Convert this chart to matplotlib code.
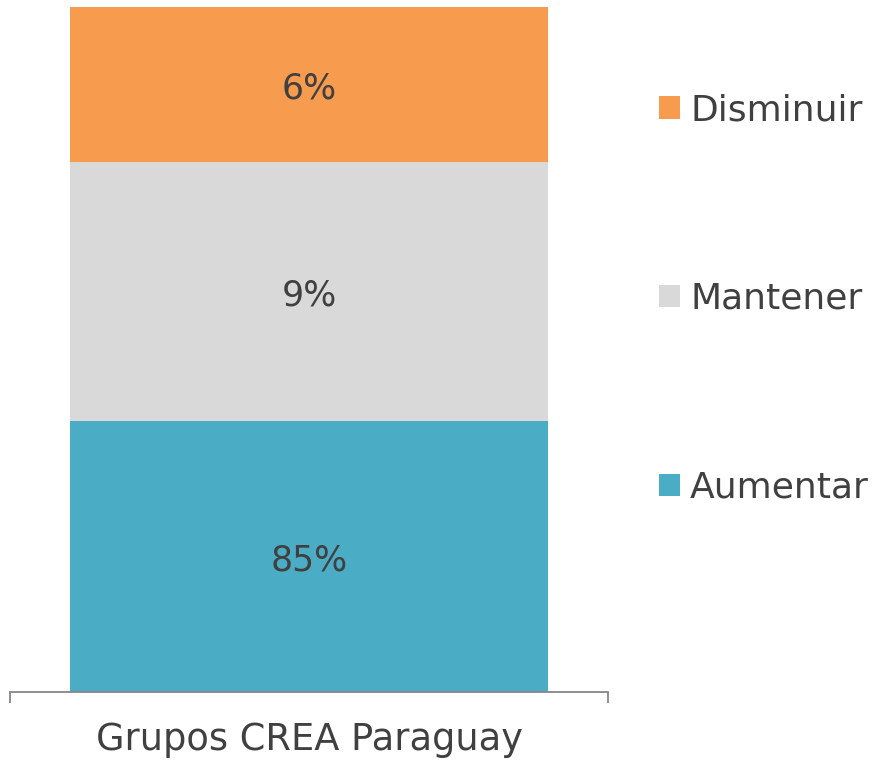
import numpy as np
import matplotlib.pyplot as plt

# data (100% stacked, shares of responses)
category = ["Grupos CREA Paraguay"]
series = ["Aumentar", "Mantener", "Disminuir"]
values = [85.19, 9.26, 5.56]
colors = ["#4BACC6", "#D9D9D9", "#F79B4F"]

txt = "#404040"
plt.rcParams['font.family'] = ['DejaVu Sans']

fig = plt.figure(figsize=(8.73, 7.61), dpi=100)
ax = fig.add_axes([10/873, 1 - 692/761, 598/873, 685/761])

ymin, ymax = 75.5, 100
bottom = 0
bars = []
for name, v, c in zip(series, values, colors):
    b = ax.bar(0, v, width=0.8, bottom=bottom, color=c, label=name)
    bars.append(b)
    lo = max(bottom, ymin)
    ax.annotate(f"{v:.0f}%", (0, (lo + bottom + v) / 2), xytext=(0, -3),
                textcoords="offset points", ha="center", va="center",
                fontsize=25, color=txt)
    bottom += v

ax.set_xlim(-0.5, 0.5)
ax.set_ylim(ymin, ymax)
for s in ["top", "right", "left"]:
    ax.spines[s].set_visible(False)
ax.spines["bottom"].set_color("#868686")
ax.spines["bottom"].set_linewidth(1.3)
ax.set_yticks([])
ax.set_xticks([0])
ax.set_xticklabels(category, fontsize=26.5, color=txt)
ax.tick_params(axis="x", which="major", length=0, pad=21)
ax.set_xticks([-0.5, 0.5], minor=True)
ax.tick_params(axis="x", which="minor", length=8, width=1.3, color="#868686")

fig.legend(handles=bars[::-1], labels=series[::-1], loc="upper left",
           bbox_to_anchor=(641/873, 1 - 75/761), frameon=False,
           fontsize=26, labelcolor=txt, handlelength=0.58, handleheight=0.58,
           handletextpad=0.28, labelspacing=4.29, borderpad=0)

fig.savefig("out.png", dpi=100)
